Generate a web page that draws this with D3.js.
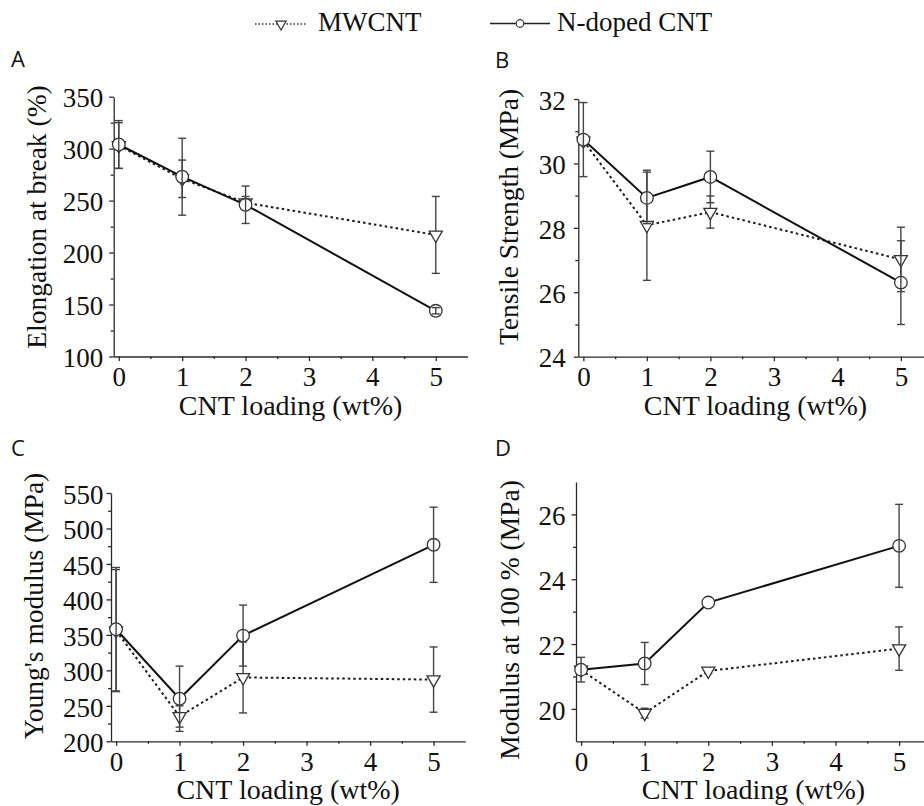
<!DOCTYPE html>
<html>
<head>
<meta charset="utf-8">
<script src="https://cdn.jsdelivr.net/npm/d3@7"></script>
<style>
  html, body { margin: 0; padding: 0; background: #fff; }
  svg { display: block; }
</style>
</head>
<body>
<svg id="chart" width="924" height="806"></svg>
<script>
// ---- data -------------------------------------------------------------
const loading = [0, 1, 2, 5];                // CNT loading (wt%)
const xTicks = [0, 1, 2, 3, 4, 5];
const xMinorTicks = [0.5, 1.5, 2.5, 3.5, 4.5];
const seriesNames = ["MWCNT", "N-doped CNT"];
const xTitle = "CNT loading (wt%)";

// A: elongation at break (%)
const elongMW = [303, 271, 248, 217];
const elongMWErr = [22, 18, 6, 37];
const elongND = [304, 273, 246, 144];
const elongNDErr = [23, 37, 18, 3];
const elongTicks = [100, 150, 200, 250, 300, 350];
const elongMinor = [125, 175, 225, 275, 325];

// B: tensile strength (MPa)
const tensileMW = [30.7, 28.08, 28.49, 27.02];
const tensileMWErr = [0.12, 1.71, 0.5, 1.0];
const tensileND = [30.74, 28.93, 29.58, 26.3];
const tensileNDErr = [1.15, 0.8, 0.8, 1.3];
const tensileTicks = [24, 26, 28, 30, 32];
const tensileMinor = [25, 27, 29, 31];

// C: Young's modulus (MPa)
const youngMW = [356, 235, 290, 287];
const youngMWErr = [86, 15, 50, 46];
const youngND = [358, 260, 349, 477];
const youngNDErr = [87, 46, 43, 53];
const youngTicks = [200, 250, 300, 350, 400, 450, 500, 550];
const youngMinor = [225, 275, 325, 375, 425, 475, 525];

// D: modulus at 100 % (MPa)
const mod100MW = [21.2, 19.87, 21.17, 21.86];
const mod100MWErr = [0.1, 0.15, 0.08, 0.67];
const mod100ND = [21.21, 21.4, 23.28, 25.03];
const mod100NDErr = [0.38, 0.65, 0, 1.28];
const mod100Ticks = [20, 22, 24, 26];
const mod100Minor = [21, 23, 25];

// ---- panel layout ----------------------------------------------------
const panels = [
  { letter: "A", title: "Elongation at break (%)", mw: elongMW, mwErr: elongMWErr, nd: elongND, ndErr: elongNDErr,
    yDomain: [100, 350], ticks: elongTicks, minor: elongMinor,
    left: 113.7, bottom: 356.5, top: 96.7, ppu: 63.4, labelGap: 6, letterPos: [11, 67], titleX: 46, titleY: 217 },
  { letter: "B", title: "Tensile Strength (MPa)", mw: tensileMW, mwErr: tensileMWErr, nd: tensileND, ndErr: tensileNDErr,
    yDomain: [24, 32], ticks: tensileTicks, minor: tensileMinor,
    left: 578.3, bottom: 356.7, top: 99, ppu: 63.5, labelGap: 8, letterPos: [495, 68], titleX: 518, titleY: 217 },
  { letter: "C", title: "Young's modulus (MPa)", mw: youngMW, mwErr: youngMWErr, nd: youngND, ndErr: youngNDErr,
    yDomain: [200, 550], ticks: youngTicks, minor: youngMinor,
    left: 111, bottom: 741.3, top: 493, ppu: 63.5, labelGap: 3, letterPos: [11, 456], titleX: 43, titleY: 606 },
  { letter: "D", title: "Modulus at 100 % (MPa)", mw: mod100MW, mwErr: mod100MWErr, nd: mod100ND, ndErr: mod100NDErr,
    yDomain: [19, 27], ticks: mod100Ticks, minor: mod100Minor,
    left: 576, bottom: 741.3, top: 482, ppu: 63.6, labelGap: 6, letterPos: [495, 456], titleX: 519, titleY: 620 }
];

const xDomain = [-0.08, 5.5];
const serif = "'Liberation Serif', 'Times New Roman', Times, serif";
const sans = "'Open Sans', 'Liberation Sans', Arial, sans-serif";
const axisColor = "#2a2a2a";
const errColor = "#444";
const markerStroke = "#333";

const svg = d3.select("#chart");

const triangle = d3.symbol(d3.symbolTriangle, 74);
const triangleSmall = d3.symbol(d3.symbolTriangle, 46);

panels.forEach(p => {
  const right = p.left + (xDomain[1] - xDomain[0]) * p.ppu;
  const x = d3.scaleLinear().domain(xDomain).range([p.left, right]);
  const y = d3.scaleLinear().domain(p.yDomain).range([p.bottom, p.top]);
  const g = svg.append("g");

  // axes
  const xAxis = g.append("g").attr("transform", `translate(0,${p.bottom})`)
    .call(d3.axisBottom(x).tickValues(xTicks).tickSize(4.5).tickSizeOuter(0).tickFormat(d3.format("d")));
  xAxis.selectAll("text").attr("y", 10.5).attr("dy", "0.71em");
  g.append("g").attr("transform", `translate(0,${p.bottom})`)
    .call(d3.axisBottom(x).tickValues(xMinorTicks).tickSize(2.5).tickSizeOuter(0).tickFormat(""))
    .select(".domain").remove();

  const yAxis = g.append("g").attr("transform", `translate(${p.left},0)`)
    .call(d3.axisLeft(y).tickValues(p.ticks).tickSize(4.5).tickSizeOuter(0).tickFormat(d3.format("d")).tickPadding(p.labelGap));
  yAxis.selectAll("text").attr("dy", "0.38em");
  g.append("g").attr("transform", `translate(${p.left},0)`)
    .call(d3.axisLeft(y).tickValues(p.minor).tickSize(3).tickSizeOuter(0).tickFormat(""))
    .select(".domain").remove();

  g.selectAll(".domain, .tick line").attr("stroke", axisColor).attr("stroke-width", 1.3);
  g.selectAll(".tick text").style("font-family", serif).style("font-size", "27px").attr("fill", "#111");

  // axis titles
  g.append("text")
    .attr("x", (p.left + right) / 2).attr("y", p.bottom + 58)
    .attr("text-anchor", "middle").attr("fill", "#111")
    .style("font-family", serif).style("font-size", "28px")
    .text(xTitle);
  g.append("text")
    .attr("transform", `translate(${p.titleX},${p.titleY}) rotate(-90)`)
    .attr("text-anchor", "middle").attr("fill", "#111")
    .style("font-family", serif).style("font-size", "27.5px")
    .text(p.title);

  // panel letter
  g.append("text")
    .attr("x", p.letterPos[0]).attr("y", p.letterPos[1])
    .attr("fill", "#111").style("font-family", sans).style("font-size", "22px")
    .text(p.letter);

  const mwPts = loading.map((v, i) => ({ x: v, y: p.mw[i], e: p.mwErr[i] }));
  const ndPts = loading.map((v, i) => ({ x: v, y: p.nd[i], e: p.ndErr[i] }));
  const line = d3.line().x(d => x(d.x)).y(d => y(d.y));

  g.append("path").datum(mwPts).attr("d", line)
    .attr("fill", "none").attr("stroke", "#1a1a1a").attr("stroke-width", 2)
    .attr("stroke-dasharray", "2.5,3");
  g.append("path").datum(ndPts).attr("d", line)
    .attr("fill", "none").attr("stroke", "#111").attr("stroke-width", 2);

  const drawErr = (pts) => {
    const eg = g.append("g").attr("stroke", errColor).attr("stroke-width", 1.4).attr("fill", "none");
    pts.filter(d => d.e > 0).forEach(d => {
      const cx = x(d.x), y0 = y(d.y + d.e), y1 = y(d.y - d.e);
      eg.append("line").attr("x1", cx).attr("x2", cx).attr("y1", y0).attr("y2", y1);
      eg.append("line").attr("x1", cx - 4).attr("x2", cx + 4).attr("y1", y0).attr("y2", y0);
      eg.append("line").attr("x1", cx - 4).attr("x2", cx + 4).attr("y1", y1).attr("y2", y1);
    });
  };

  drawErr(mwPts);
  g.selectAll(".tri").data(mwPts).join("path")
    .attr("transform", d => `translate(${x(d.x)},${y(d.y)}) rotate(180)`)
    .attr("d", triangle)
    .attr("fill", "#fff").attr("stroke", markerStroke).attr("stroke-width", 1.3);
  g.selectAll(".circ").data(ndPts).join("circle")
    .attr("cx", d => x(d.x)).attr("cy", d => y(d.y)).attr("r", 6.3)
    .attr("fill", "#fff").attr("stroke", markerStroke).attr("stroke-width", 1.3);
  drawErr(ndPts);
});

// ---- legend -----------------------------------------------------------
const legend = svg.append("g");
legend.append("line").attr("x1", 255).attr("x2", 307).attr("y1", 24).attr("y2", 24)
  .attr("stroke", "#333").attr("stroke-width", 1.3).attr("stroke-dasharray", "1.5,2");
legend.append("path").attr("transform", "translate(281,24) rotate(180)").attr("d", triangleSmall)
  .attr("fill", "#fff").attr("stroke", markerStroke).attr("stroke-width", 1.2);
legend.append("text").attr("x", 318).attr("y", 31).attr("fill", "#111")
  .style("font-family", serif).style("font-size", "27px").text(seriesNames[0]);

legend.append("line").attr("x1", 490).attr("x2", 550).attr("y1", 23.5).attr("y2", 23.5)
  .attr("stroke", "#222").attr("stroke-width", 1.3);
legend.append("circle").attr("cx", 520).attr("cy", 23.5).attr("r", 3.8)
  .attr("fill", "#fff").attr("stroke", markerStroke).attr("stroke-width", 1.2);
legend.append("text").attr("x", 557).attr("y", 31).attr("fill", "#111")
  .style("font-family", serif).style("font-size", "27px").text(seriesNames[1]);
</script>
</body>
</html>
